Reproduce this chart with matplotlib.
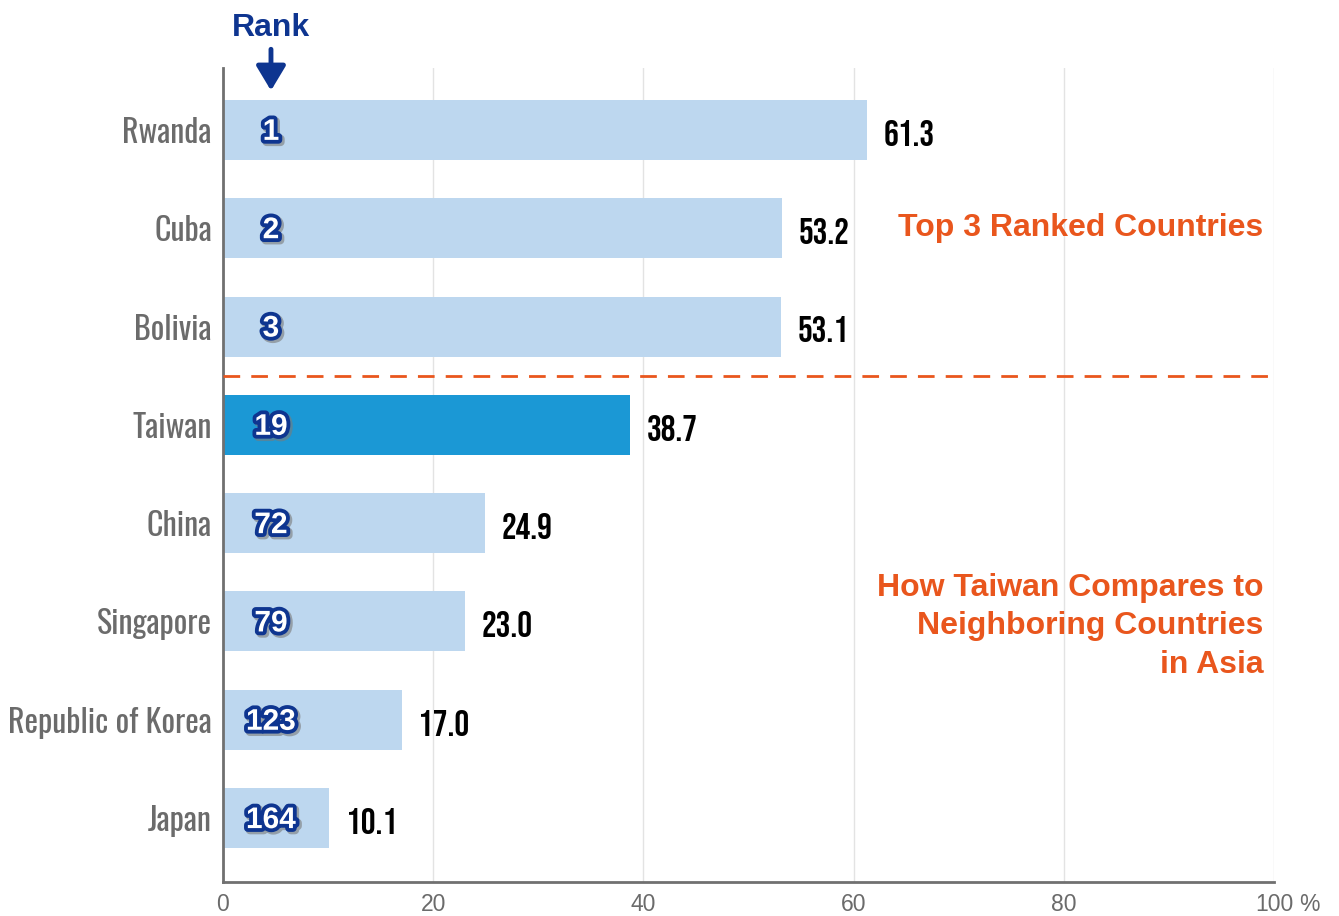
import numpy as np
import matplotlib
matplotlib.use('Agg')
import matplotlib.pyplot as plt
import matplotlib.patheffects as pe

# data
countries = ['Rwanda', 'Cuba', 'Bolivia', 'Taiwan', 'China', 'Singapore', 'Republic of Korea', 'Japan']
values = [61.3, 53.2, 53.1, 38.7, 24.9, 23.0, 17.0, 10.1]
ranks = [1, 2, 3, 19, 72, 79, 123, 164]
xticks = [0, 20, 40, 60, 80, 100]
xticklabels = ['0', '20', '40', '60', '80', '100']

light = '#bdd7ef'
taiwan = '#1b98d5'
navy = '#0e3590'
orange = '#e9561d'
grey = '#6b6b6b'

name_font = ['Oswald', 'DejaVu Sans']
num_font = ['Bebas Neue', 'Oswald', 'DejaVu Sans']
bold_font = ['Liberation Sans', 'DejaVu Sans']

fig = plt.figure(figsize=(13.39, 9.16), dpi=100)
ax = fig.add_axes([0.1665, 0.0371, 0.785, 0.8887])

y = np.arange(len(countries))
cols = [taiwan if c == 'Taiwan' else light for c in countries]
ax.barh(y, values, height=0.61, color=cols, zorder=2)

ax.set_xlim(0, 100)
ax.set_ylim(7.65, -0.63)
ax.set_xticks(xticks)
ax.set_xticklabels(xticklabels, fontsize=16.5, color=grey, family=bold_font)
ax.set_yticks(y)
ax.set_yticklabels(countries, fontsize=23, color=grey, family=name_font)
ax.tick_params(axis='y', length=0, pad=8)
ax.tick_params(axis='x', length=0, pad=8)
ax.grid(axis='x', color='#e3e3e3', lw=1, zorder=0)
for s in ['top', 'right']:
    ax.spines[s].set_visible(False)
for s in ['left', 'bottom']:
    ax.spines[s].set_color('#707070')
    ax.spines[s].set_linewidth(2)

# unit after the last tick label
ax.annotate('%', xy=(100, 0), xycoords=('data', 'axes fraction'), xytext=(18, -8),
            textcoords='offset points', ha='left', va='top', fontsize=16.5, color=grey,
            family=bold_font, annotation_clip=False)

# value labels
for yi, v in zip(y, values):
    ax.text(v + 1.6, yi + 0.03, '%.1f' % v, va='center', ha='left', fontsize=26.5,
            color='black', family=num_font)

# rank badges
badge_fx = [pe.Stroke(linewidth=6, foreground='#7a7a7a', alpha=0.6, offset=(1.5, -1.5)),
            pe.Stroke(linewidth=5.5, foreground=navy), pe.Normal()]
for yi, r in zip(y, ranks):
    ax.text(4.57, yi + 0.02, str(r), va='center', ha='center', fontsize=21.5, fontweight='bold',
            color='white', family=bold_font, zorder=5, path_effects=badge_fx)

# separator between top 3 and the rest
ax.axhline(2.5, color=orange, lw=2, ls=(0, (6, 4)), zorder=3)

ax.text(99, 1, 'Top 3 Ranked Countries', ha='right', va='center', fontsize=23,
        fontweight='bold', color=orange, family=bold_font)
ax.text(99, 5.05, 'How Taiwan Compares to\nNeighboring Countries\nin Asia', ha='right', va='center',
        fontsize=23, fontweight='bold', color=orange, family=bold_font, linespacing=1.36)

# rank header with arrow
ax.annotate('', xy=(4.57, -0.40), xytext=(4.57, -0.82), annotation_clip=False,
            arrowprops=dict(arrowstyle='-|>,head_length=0.75,head_width=0.45', mutation_scale=20,
                            color=navy, lw=3.5, shrinkA=0, shrinkB=0))
ax.text(4.57, -1.04, 'Rank', ha='center', va='center', fontsize=23, fontweight='bold',
        color=navy, family=bold_font, clip_on=False)

fig.savefig('out.png', dpi=100)
